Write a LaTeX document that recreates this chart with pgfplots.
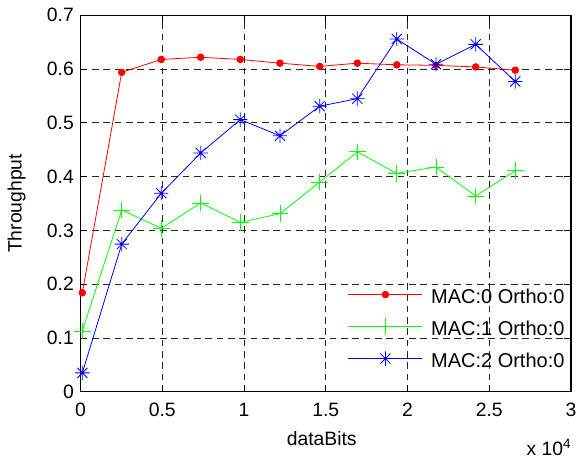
\documentclass[border=0pt]{standalone}
\usepackage{fontspec}
\setmainfont{Liberation Sans}
\usepackage{pgfplots}
\pgfplotsset{compat=1.18}
\pgfdeclareplotmark{mstar}{%
  \pgfpathmoveto{\pgfpoint{-\pgfplotmarksize}{0pt}}%
  \pgfpathlineto{\pgfpoint{\pgfplotmarksize}{0pt}}%
  \pgfpathmoveto{\pgfpoint{0pt}{-\pgfplotmarksize}}%
  \pgfpathlineto{\pgfpoint{0pt}{\pgfplotmarksize}}%
  \pgfpathmoveto{\pgfpoint{-0.7\pgfplotmarksize}{-0.7\pgfplotmarksize}}%
  \pgfpathlineto{\pgfpoint{0.7\pgfplotmarksize}{0.7\pgfplotmarksize}}%
  \pgfpathmoveto{\pgfpoint{-0.7\pgfplotmarksize}{0.7\pgfplotmarksize}}%
  \pgfpathlineto{\pgfpoint{0.7\pgfplotmarksize}{-0.7\pgfplotmarksize}}%
  \pgfusepathqstroke}
\begin{document}
\begin{tikzpicture}
\path[use as bounding box] (-60.4pt,-50.5pt) rectangle (372.4pt,293.8pt);
\begin{axis}[
  scale only axis, width=367.9pt, height=282.3pt,
  xmin=0, xmax=30000, ymin=0, ymax=0.7,
  xtick={0,5000,10000,15000,20000,25000,30000},
  xticklabels={0,0.5,1,1.5,2,2.5,3},
  ytick={0,0.1,0.2,0.3,0.4,0.5,0.6,0.7},
  yticklabels={0,0.1,0.2,0.3,0.4,0.5,0.6,0.7},
  scaled x ticks=false, scaled y ticks=false,
  every tick label/.append style={font=\fontsize{14.5}{17}\selectfont},
  xticklabel style={yshift=-5pt},
  yticklabel style={xshift=-1.5pt},
  tick align=inside, major tick length=5pt,
  tick style={black, line width=0.6pt},
  grid=major,
  major grid style={black!85, dash pattern=on 5pt off 3.5pt, line width=0.6pt},
  axis line style={line width=1pt},
  clip=false,
  xlabel={dataBits},
  xlabel style={at={(axis description cs:0.4917,-0.1417)}, anchor=base, font=\fontsize{14.5}{17}\selectfont},
  ylabel={Throughput},
  ylabel style={at={(axis description cs:-0.1203,0.5)}, anchor=base, font=\fontsize{14.5}{17}\selectfont},
  legend style={at={(axis description cs:0.5448,0.2933)}, anchor=north west, draw=none, fill=none,
    inner sep=0pt, row sep=4.5pt, font=\fontsize{15}{18}\selectfont,
    nodes={inner sep=3.25pt, text height=13pt, text depth=0pt}, cells={anchor=center}},
  legend image code/.code={%
    \draw[mark repeat=2,mark phase=2] plot coordinates {(0pt,0pt) (27.75pt,0pt) (55.5pt,0pt)};
    \path (0pt,-6.5pt) (58.5pt,6.5pt);},
]
\addplot[red, line width=0.6pt, mark=*, mark size=2.5pt] coordinates {
(110,0.184) (2520,0.594) (4940,0.618) (7350,0.622) (9770,0.618) (12200,0.611)
(14630,0.605) (16930,0.611) (19340,0.608) (21740,0.607) (24170,0.604) (26590,0.598)};
\addlegendentry{MAC:0 Ortho:0}
\addplot[green, line width=0.6pt, mark=+, mark size=6.25pt] coordinates {
(110,0.113) (2520,0.338) (4940,0.304) (7350,0.351) (9770,0.315) (12200,0.331)
(14630,0.390) (16930,0.446) (19340,0.406) (21740,0.418) (24170,0.364) (26590,0.411)};
\addlegendentry{MAC:1 Ortho:0}
\addplot[blue, line width=0.6pt, mark=mstar, mark size=5.4pt] coordinates {
(110,0.035) (2520,0.2745) (4940,0.369) (7350,0.444) (9770,0.506) (12200,0.476)
(14630,0.531) (16930,0.545) (19340,0.656) (21740,0.609) (24170,0.646) (26590,0.577)};
\addlegendentry{MAC:2 Ortho:0}
\node[anchor=base east, inner sep=0pt, font=\fontsize{14.5}{17}\selectfont] at (axis description cs:1.0014,-0.169) {x 10\textsuperscript{4}};
\end{axis}
\end{tikzpicture}
\end{document}
